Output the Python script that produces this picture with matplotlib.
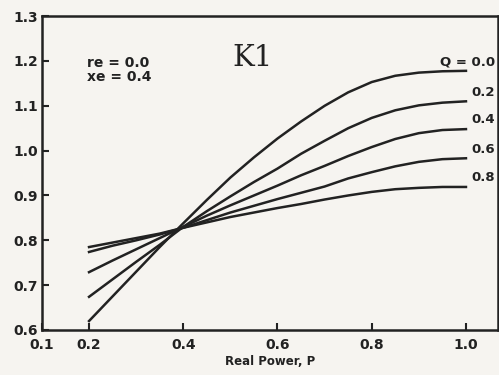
import matplotlib
matplotlib.use("Agg")
import matplotlib.pyplot as plt

# curves K1 vs real power, one per reactive load Q
p = [0.2, 0.25, 0.3, 0.35, 0.4, 0.45, 0.5, 0.55, 0.6,
     0.65, 0.7, 0.75, 0.8, 0.85, 0.9, 0.95, 1.0]
k1_q00 = [0.620, 0.675, 0.730, 0.785, 0.838, 0.890, 0.940, 0.985, 1.027,
          1.065, 1.100, 1.130, 1.153, 1.167, 1.174, 1.177, 1.178]
k1_q02 = [0.674, 0.713, 0.752, 0.790, 0.830, 0.865, 0.898, 0.930, 0.960,
          0.993, 1.022, 1.050, 1.073, 1.090, 1.101, 1.107, 1.110]
k1_q04 = [0.729, 0.755, 0.780, 0.805, 0.830, 0.855, 0.878, 0.900, 0.922,
          0.945, 0.966, 0.988, 1.008, 1.026, 1.039, 1.046, 1.048]
k1_q06 = [0.774, 0.788, 0.800, 0.813, 0.828, 0.845, 0.862, 0.877, 0.892,
          0.906, 0.920, 0.938, 0.952, 0.965, 0.975, 0.981, 0.983]
k1_q08 = [0.785, 0.795, 0.805, 0.815, 0.828, 0.840, 0.852, 0.862, 0.872,
          0.881, 0.891, 0.900, 0.908, 0.914, 0.917, 0.919, 0.919]
curves = [k1_q00, k1_q02, k1_q04, k1_q06, k1_q08]
q_labels = ["Q = 0.0", "0.2", "0.4", "0.6", "0.8"]

x_ticks = [0.1, 0.2, 0.4, 0.6, 0.8, 1.0]
y_ticks = [0.6, 0.7, 0.8, 0.9, 1.0, 1.1, 1.2, 1.3]

ink = "#222222"
paper = "#f6f4f0"

fig = plt.figure(figsize=(4.99, 3.75), dpi=100, facecolor=paper)
ax = fig.add_axes([0.084, 0.12, 0.914, 0.837], facecolor=paper)

for ys in curves:
    ax.plot(p, ys, color=ink, linewidth=1.8)

# labels sitting just above the right end of each curve
for ys, lab in zip(curves, q_labels):
    ax.text(1.062, ys[-1] + 0.006, lab, ha="right", va="bottom",
            fontsize=9.5, fontweight="bold", color=ink)

ax.set_xlim(0.1, 1.068)
ax.set_ylim(0.6, 1.3)
ax.set_xticks(x_ticks)
ax.set_xticklabels(["0.1", "0.2", "0.4", "0.6", "0.8", "1.0"])
ax.set_yticks(y_ticks)
ax.set_yticklabels([f"{v:.1f}" for v in y_ticks])
ax.tick_params(direction="in", length=5, width=1.5, colors=ink, labelsize=10)
ax.tick_params(axis="x", pad=6)
ax.tick_params(axis="y", pad=3)
for lab in ax.get_xticklabels() + ax.get_yticklabels():
    lab.set_fontweight("bold")
for s in ax.spines.values():
    s.set_linewidth(1.8)
    s.set_color(ink)

ax.set_xlabel("Real Power, P", fontsize=8.5, fontweight="bold", color=ink, labelpad=2)

ax.text(0.196, 1.18, "re = 0.0\nxe = 0.4", fontsize=10, fontweight="bold",
        color=ink, va="center", ha="left", linespacing=1.0)
ax.text(0.547, 1.206, "K1", fontsize=21, family="DejaVu Serif", color=ink,
        ha="center", va="center")

fig.savefig("out.png", dpi=100, facecolor=paper)
